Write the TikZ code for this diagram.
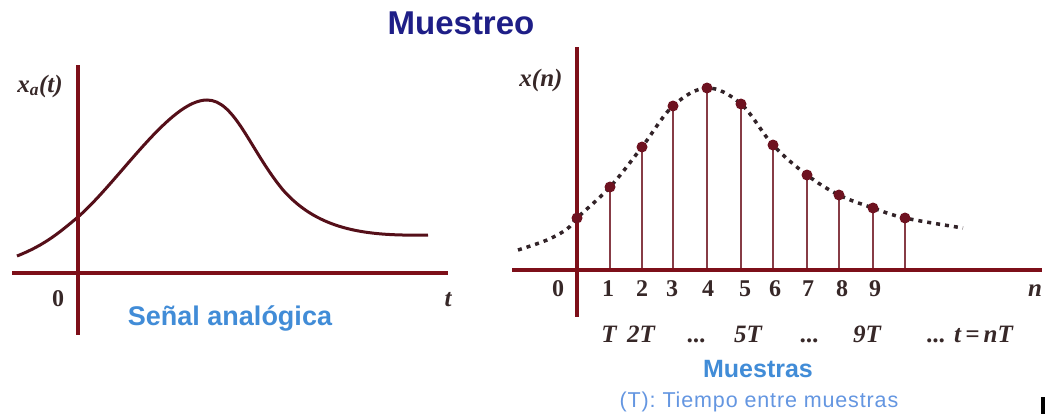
\documentclass[tikz,border=0pt]{standalone}
\usepackage{fontspec}
\setmainfont{Liberation Serif}
\newfontfamily\titlefont{Liberation Sans}
\newfontfamily\notefont[LetterSpace=4]{Liberation Sans}
\definecolor{axisred}{RGB}{125,15,25}
\definecolor{sigred}{RGB}{85,15,25}
\definecolor{stemred}{RGB}{135,60,70}
\definecolor{dotred}{RGB}{110,18,32}
\definecolor{dashgray}{RGB}{50,35,40}
\definecolor{lblgray}{RGB}{55,40,40}
\definecolor{navy}{RGB}{30,30,135}
\definecolor{capblue}{RGB}{65,140,215}
\definecolor{noteblue}{RGB}{100,150,225}
\begin{document}
\begin{tikzpicture}[x=1pt,y=-1pt,
  axis/.style={draw=axisred, line width=4pt},
  sig/.style={draw=sigred, line width=3pt},
  stem/.style={draw=stemred, line width=2.4pt},
  dotc/.style={fill=dotred},
  dashc/.style={draw=dashgray, line width=3.5pt, dash pattern=on 4pt off 5pt},
  lbl/.style={text=lblgray, inner sep=0pt, anchor=base, font=\bfseries\fontsize{24}{28}\selectfont},
  ilbl/.style={text=lblgray, inner sep=0pt, anchor=base, font=\bfseries\itshape\fontsize{25}{28}\selectfont},
  ttl/.style={text=navy, inner sep=0pt, anchor=base, font=\titlefont\bfseries\fontsize{33}{36}\selectfont},
  captxt/.style={text=capblue, inner sep=0pt, anchor=base, font=\titlefont\bfseries\fontsize{27}{30}\selectfont},
  note/.style={text=noteblue, inner sep=0pt, anchor=base, font=\notefont\fontsize{21.5}{24}\selectfont}
]
\useasboundingbox[fill=white] (0,0) rectangle (1045,418);

% title
\node[ttl] (title) at (461,34) {Muestreo};

% ---------- left panel ----------
\coordinate (lxl) at (12,273);
\coordinate (lxr) at (448,273);
\coordinate (lyt) at (78,65);
\coordinate (lyb) at (78,335);
\draw[sig] (17,256) .. controls (45,245) and (60,232) .. (78,217)
  .. controls (120,180) and (170,100) .. (207,100)
  .. controls (235,100) and (250,150) .. (283,190)
  .. controls (320,232) and (370,236) .. (428,235);
\draw[axis] (lxl) -- (lxr);
\draw[axis] (lyt) -- (lyb);
\node[ilbl] (xa) at (40,92) {x\textsubscript{a}(t)};
\node[lbl] (lzero) at (58,306) {0};
\node[ilbl] (lt) at (448,306) {t};
\node[captxt] (senal) at (230,325) {Señal analógica};

% ---------- right panel ----------
\coordinate (rxl) at (512,270);
\coordinate (rxr) at (1042,270);
\coordinate (ryt) at (577,47);
\coordinate (ryb) at (577,317);
\foreach \i/\x/\y in {0/577/218, 1/610/187, 2/642/147, 3/673/106, 4/707/88, 5/741/104, 6/773/145, 7/807/175, 8/839/195, 9/873/208, 10/905/218}{
  \coordinate (d\i) at (\x,\y);
  \coordinate (b\i) at (\x,270);
}
\coordinate (cs) at (518,250);
\coordinate (ce) at (963,228);
\foreach \i in {1,...,10} \draw[stem] (b\i) -- (d\i);
\draw[dashc] plot[smooth, tension=0.6] coordinates {(cs) (547,240) (567,229) (d0) (d1) (d2) (d3) (d4) (d5) (d6) (d7) (d8) (d9) (d10) (ce)};
\draw[axis] (rxl) -- (rxr);
\draw[axis] (ryt) -- (ryb);
\foreach \i in {0,...,10} \fill[dotc] (d\i) circle (5.5pt);

\node[ilbl] (xn) at (541,86) {x(n)};
\node[lbl] (rzero) at (558,296) {0};
\foreach \n/\x in {1/608, 2/642, 3/672, 4/708, 5/745, 6/775, 7/808, 8/842, 9/875}
  \node[lbl] (k\n) at (\x,296) {\n};
\node[ilbl] (rn) at (1035,296) {n};

\node[ilbl] (t1) at (609,342) {T};
\node[ilbl] (t2) at (641,342) {2T};
\node[ilbl] (e1) at (697,342) {...};
\node[ilbl] (t5) at (748,342) {5T};
\node[ilbl] (e2) at (810,342) {...};
\node[ilbl] (t9) at (867,342) {9T};
\node[ilbl] (tn) at (970,342) {... t\,=\,nT};

\node[captxt, font=\titlefont\bfseries\fontsize{25}{28}\selectfont] (muestras) at (758,377) {Muestras};
\node[note] (tiempo) at (759,407) {(T): Tiempo entre muestras};

\fill[black] (1041,397) rectangle (1045,414);
\end{tikzpicture}
\end{document}
